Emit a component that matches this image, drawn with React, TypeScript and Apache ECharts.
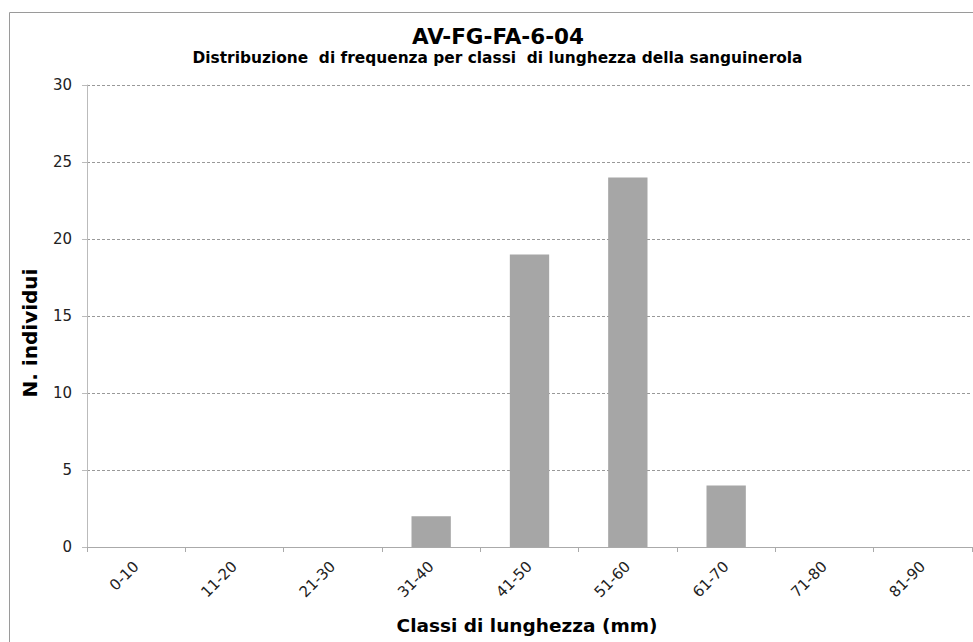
import React, { useEffect, useRef } from "react";
import * as echarts from "echarts";

const categories = ["0-10", "11-20", "21-30", "31-40", "41-50", "51-60", "61-70", "71-80", "81-90"];
const values = [0, 0, 0, 2, 19, 24, 4, 0, 0];
const titleText = "AV-FG-FA-6-04";
const subtitleText = "Distribuzione  di frequenza per classi  di lunghezza della sanguinerola";
const yName = "N. individui";
const xName = "Classi di lunghezza (mm)";

export default function App() {
  const ref = useRef<HTMLDivElement>(null);
  useEffect(() => {
    const chart = echarts.init(ref.current!, null, { renderer: "svg" });
    chart.setOption({
      animation: false,
      backgroundColor: "#fff",
      grid: { left: 87, right: 1, top: 85, bottom: 95 },
      xAxis: {
        type: "category",
        data: categories,
        axisLine: { lineStyle: { color: "#aaa", width: 1 } },
        axisTick: { show: true, alignWithLabel: false, length: 5, lineStyle: { color: "#aaa" } },
        axisLabel: { rotate: 45, color: "#222", fontFamily: "DejaVu Sans", fontSize: 15, margin: 17 },
      },
      yAxis: {
        type: "value",
        min: 0,
        max: 30,
        interval: 5,
        axisLine: { show: true, lineStyle: { color: "#bbb" } },
        axisTick: { show: true, length: 5, lineStyle: { color: "#bbb" } },
        axisLabel: { color: "#222", fontFamily: "DejaVu Sans", fontSize: 15, margin: 15 },
        splitLine: { show: true, lineStyle: { color: "#999", type: [3, 2], width: 1 } },
      },
      series: [
        {
          type: "bar",
          data: values,
          barWidth: "40%",
          itemStyle: { color: "#a6a6a6" },
        },
      ],
      graphic: [
        { type: "rect", shape: { x: 9.5, y: 12.5, width: 980, height: 650 }, style: { fill: "none", stroke: "#9a9a9a", lineWidth: 1 } },
        { type: "text", x: 498, y: 36, style: { text: titleText, fontFamily: "DejaVu Sans", fontWeight: "bold", fontSize: 21.5, fill: "#000", align: "center", verticalAlign: "middle" } },
        { type: "text", x: 497.5, y: 58, style: { text: subtitleText, fontFamily: "DejaVu Sans", fontWeight: "bold", fontSize: 15.4, fill: "#000", align: "center", verticalAlign: "middle" } },
        { type: "text", x: 30, y: 333, rotation: Math.PI / 2, style: { text: yName, fontFamily: "DejaVu Sans", fontWeight: "bold", fontSize: 20, fill: "#000", align: "center", verticalAlign: "middle" } },
        { type: "text", x: 527, y: 625, style: { text: xName, fontFamily: "DejaVu Sans", fontWeight: "bold", fontSize: 18.5, fill: "#000", align: "center", verticalAlign: "middle" } },
      ],
    });
    return () => chart.dispose();
  }, []);
  return <div ref={ref} style={{ position: "fixed", left: 0, top: 0, width: 973, height: 642 }} />;
}
